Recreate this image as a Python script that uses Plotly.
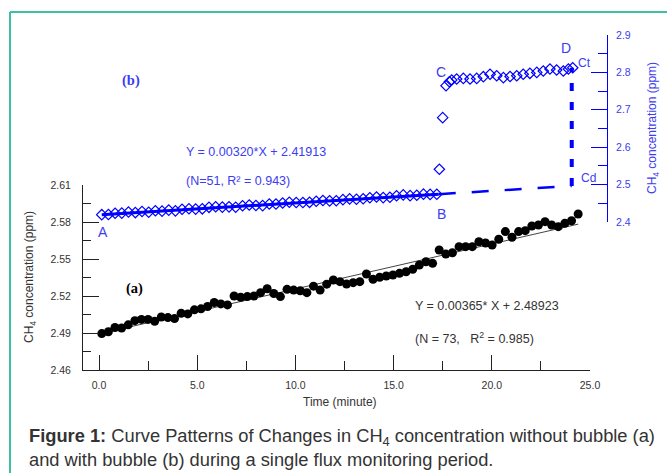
import plotly.graph_objects as go

# ---------------- data ----------------
time_a = [round(0.14 + i * 0.3369, 3) for i in range(73)]
conc_a = [2.4895, 2.4910, 2.4945, 2.4940, 2.4966, 2.5000, 2.5010, 2.5010, 2.4995, 2.5030,
          2.5025, 2.5017, 2.5060, 2.5055, 2.5088, 2.5096, 2.5115, 2.5147, 2.5136, 2.5128,
          2.5200, 2.5190, 2.5195, 2.5200, 2.5227, 2.5259, 2.5220, 2.5195, 2.5254, 2.5248,
          2.5243, 2.5227, 2.5280, 2.5248, 2.5296, 2.5330, 2.5316, 2.5297, 2.5308, 2.5316,
          2.5378, 2.5335, 2.5352, 2.5362, 2.5370, 2.5384, 2.5397, 2.5416, 2.5451, 2.5478,
          2.5465, 2.5573, 2.5540, 2.5551, 2.5600, 2.5600, 2.5600, 2.5640, 2.5630, 2.5613,
          2.5660, 2.5722, 2.5676, 2.5722, 2.5730, 2.5768, 2.5776, 2.5803, 2.5776, 2.5762,
          2.5790, 2.5810, 2.5865]

time_b1 = [0.14, 0.48, 0.82, 1.16, 1.50, 1.85, 2.19, 2.53, 2.87, 3.21, 3.55, 3.89, 4.23,
           4.58, 4.92, 5.26, 5.60, 5.94, 6.28, 6.62, 6.96, 7.31, 7.65, 7.99, 8.33, 8.67,
           9.01, 9.35, 9.69, 10.04, 10.38, 10.72, 11.06, 11.40, 11.74, 12.08, 12.42, 12.76,
           13.11, 13.45, 13.79, 14.13, 14.47, 14.81, 15.15, 15.49, 15.84, 16.18, 16.52,
           16.86, 17.20]
conc_b1 = [2.4196, 2.4200, 2.4235, 2.4238, 2.4266, 2.4252, 2.4282, 2.4262, 2.4302, 2.4290,
           2.4318, 2.4298, 2.4340, 2.4356, 2.4345, 2.4352, 2.4392, 2.4408, 2.4398, 2.4405,
           2.4396, 2.4435, 2.4455, 2.4440, 2.4438, 2.4482, 2.4480, 2.4508, 2.4530, 2.4520,
           2.4520, 2.4526, 2.4553, 2.4575, 2.4565, 2.4570, 2.4598, 2.4618, 2.4610, 2.4620,
           2.4650, 2.4668, 2.4652, 2.4660, 2.4700, 2.4725, 2.4705, 2.4715, 2.4745, 2.4738,
           2.4740]

time_b2 = [17.33, 17.50, 17.67, 17.84, 17.96, 18.21, 18.55, 18.89, 19.23, 19.57, 19.91,
           20.25, 20.59, 20.93, 21.27, 21.60, 21.94, 22.29, 22.62, 22.96, 23.30, 23.64,
           23.90, 24.12]
conc_b2 = [2.541, 2.679, 2.7645, 2.775, 2.7797, 2.7824, 2.784, 2.7824, 2.784, 2.7886, 2.795,
           2.791, 2.786, 2.789, 2.791, 2.795, 2.7975, 2.800, 2.8037, 2.809, 2.8064, 2.8037,
           2.809, 2.8125]

slope_a, icpt_a = 0.00365, 2.48923
slope_b, icpt_b = 0.00320, 2.41913
fit_a_x = [0.14, 24.4]
fit_b_solid_x = [0.14, 17.3]
fit_b_dash_x = [17.3, 24.07]
t_bubble_end = 24.07
c_top = 2.8125

x_ticks = [0, 5, 10, 15, 20, 25]
yl_ticks = [2.46, 2.49, 2.52, 2.55, 2.58, 2.61]
yr_ticks = [2.4, 2.5, 2.6, 2.7, 2.8, 2.9]

# ---------------- layout helpers ----------------
W, H = 667, 473
L, R, T, B = 83, 607, 35, 370


def px(xp):
    return (xp - L) / (R - L)


def py(yp):
    return (B - yp) / (B - T)


BLUE = "#0000ff"
BLUE_T = "#3c3cf2"
DARK = "#333333"

fig = go.Figure()

# regression line (a)
fig.add_trace(go.Scatter(x=fit_a_x, y=[slope_a * v + icpt_a for v in fit_a_x],
                         mode="lines", line=dict(color="#444444", width=1),
                         xaxis="x", yaxis="y", showlegend=False))
# series (a)
fig.add_trace(go.Scatter(x=time_a, y=conc_a, mode="markers",
                         marker=dict(symbol="circle", size=9, color="black"),
                         xaxis="x", yaxis="y", showlegend=False, cliponaxis=False))

# regression (b) solid + dashed extension
fig.add_trace(go.Scatter(x=fit_b_solid_x, y=[slope_b * v + icpt_b for v in fit_b_solid_x],
                         mode="lines", line=dict(color=BLUE, width=3),
                         xaxis="x", yaxis="y2", showlegend=False))
fig.add_trace(go.Scatter(x=fit_b_dash_x, y=[slope_b * v + icpt_b for v in fit_b_dash_x],
                         mode="lines", line=dict(color=BLUE, width=2.5, dash="17px,16px"),
                         xaxis="x", yaxis="y2", showlegend=False))
# vertical Cd -> Ct
fig.add_trace(go.Scatter(x=[t_bubble_end, t_bubble_end],
                         y=[slope_b * t_bubble_end + icpt_b, c_top],
                         mode="lines", line=dict(color=BLUE, width=4, dash="8px,11px"),
                         xaxis="x", yaxis="y2", showlegend=False))
# series (b)
fig.add_trace(go.Scatter(x=time_b1 + time_b2, y=conc_b1 + conc_b2, mode="markers",
                         marker=dict(symbol="diamond-open", size=8, color=BLUE,
                                     line=dict(width=1.2, color=BLUE)),
                         xaxis="x", yaxis="y2", showlegend=False, cliponaxis=False))

ann = []


def add_text(text, x, y, size=12, color=DARK, xanchor="left", family="Liberation Sans",
             angle=0):
    ann.append(dict(text=text, x=px(x), y=py(y), xref="paper", yref="paper",
                    xanchor=xanchor, yanchor="middle", showarrow=False, textangle=angle,
                    font=dict(size=size, color=color, family=family)))


add_text("<b>(b)</b>", 131, 80, 14.5, BLUE_T, "center", "Liberation Serif")
add_text("<b>(a)</b>", 134, 288, 14.5, "black", "center", "Liberation Serif")
add_text("Y = 0.00320*X + 2.41913", 184, 152, 12.5, BLUE_T)
add_text("(N=51, R² = 0.943)", 184, 181, 12.5, BLUE_T)
add_text("A", 103, 232, 14, BLUE_T, "center")
add_text("B", 441, 214, 14, BLUE_T, "center")
add_text("C", 441, 72, 14, BLUE_T, "center")
add_text("D", 566, 48, 14, BLUE_T, "center")
add_text("Ct", 576, 63, 12, BLUE_T)
add_text("Cd", 579, 178, 12, BLUE_T)
add_text("Y = 0.00365* X + 2.48923", 413, 306, 12.5, DARK)
add_text("(N = 73,   R<sup>2</sup> = 0.985)", 413, 338, 12.5, DARK)
add_text("Time (minute)", 340, 402, 12, DARK, "center")
add_text("CH<sub>4</sub> concentration (ppm)", 30, 277, 12, DARK, "center", angle=-90)
add_text("CH<sub>4</sub> concentration (ppm)", 653, 128, 12, BLUE_T, "center", angle=-90)
add_text("<b>Figure 1:</b> Curve Patterns of Changes in CH<sub>4</sub> concentration without bubble (a)",
         27, 437, 18.3, "#333333")
add_text("and with bubble (b) during a single flux monitoring period.", 27, 460, 18.3, "#333333")

TEAL = "#3dbfa2"
shapes = [
    dict(type="line", xref="paper", yref="paper", x0=px(10), x1=px(10), y0=py(12), y1=py(H + 5),
         line=dict(color=TEAL, width=2)),
    dict(type="line", xref="paper", yref="paper", x0=px(10), x1=px(W + 5), y0=py(12), y1=py(12),
         line=dict(color=TEAL, width=2)),
]

fig.update_layout(
    width=W, height=H,
    margin=dict(l=L, r=W - R, t=T, b=H - B, pad=0),
    paper_bgcolor="white", plot_bgcolor="rgba(0,0,0,0)",
    font=dict(family="Liberation Sans", color=DARK),
    annotations=ann, shapes=shapes, showlegend=False,
    xaxis=dict(domain=[0, (590 - L) / (R - L)], range=[-0.815, 25.0],
               tickvals=x_ticks, ticktext=[f"{v:.1f}" for v in x_ticks],
               ticks="inside", ticklen=15, tickwidth=1, tickcolor="#222",
               showline=True, linecolor="#222", linewidth=1, showgrid=False, zeroline=False,
               tickfont=dict(size=10.5, color=DARK), ticklabelstandoff=5,
               minor=dict(tickvals=[2.5, 7.5, 12.5, 17.5, 22.5], ticks="inside", ticklen=9,
                          tickcolor="#222", tickwidth=1, showgrid=False),
               anchor="y", fixedrange=True),
    yaxis=dict(domain=[0, (B - 185) / (B - T)], range=[2.46, 2.61],
               tickvals=yl_ticks, ticktext=[f"{v:.2f}" for v in yl_ticks],
               ticks="inside", ticklen=16, tickwidth=1, tickcolor="#222",
               showline=True, linecolor="#222", linewidth=1, showgrid=False, zeroline=False,
               tickfont=dict(size=10.5, color=DARK), ticklabelstandoff=9,
               minor=dict(tickvals=[2.475, 2.505, 2.535, 2.565, 2.595], ticks="inside",
                          ticklen=8, tickcolor="#222", tickwidth=1, showgrid=False),
               anchor="x", fixedrange=True),
    yaxis2=dict(domain=[(B - 222) / (B - T), 1.0], range=[2.4, 2.9], side="right",
                anchor="free", position=1.0,
                tickvals=yr_ticks, ticktext=[f"{v:.1f}" for v in yr_ticks],
                ticks="inside", ticklen=16, tickwidth=1, tickcolor=BLUE,
                showline=True, linecolor=BLUE, linewidth=1, showgrid=False, zeroline=False,
                tickfont=dict(size=10.5, color=BLUE_T), ticklabelstandoff=6,
                minor=dict(tickvals=[2.45, 2.55, 2.65, 2.75, 2.85], ticks="inside", ticklen=9,
                           tickcolor=BLUE, tickwidth=1, showgrid=False),
                fixedrange=True),
)

fig.write_html("out.html", config=dict(displayModeBar=False))
